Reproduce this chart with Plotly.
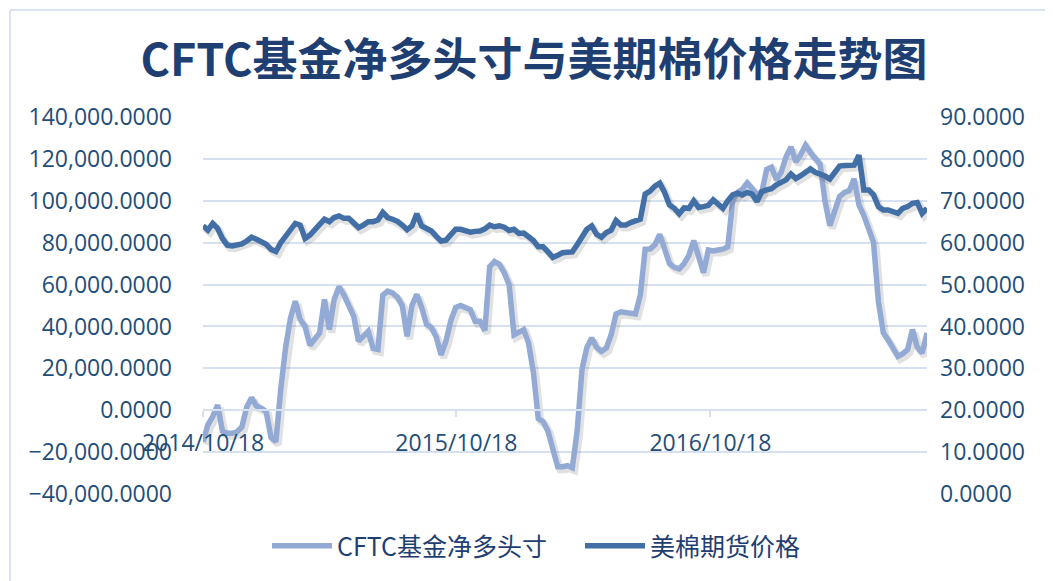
import pandas as pd
import plotly.graph_objects as go

# ---------------- data ----------------
start_date = "2014-10-18"          # first weekly observation
week_step = "7D"
tick_dates = ["2014-10-18", "2015-10-18", "2016-10-18"]
tick_labels = ["2014/10/18", "2015/10/18", "2016/10/18"]

series_names = ["CFTC基金净多头寸", "美棉期货价格"]

cftc_net_long = [
    -15000, -7000, -3000, 2500, -10000, -11000, -11000, -10300, -8000, 1500,
    6000, 2000, 1000, -700, -13000, -15000, 10000, 30000, 44000, 52000,
    43300, 40000, 31000, 34000, 36900, 52900, 38500, 53000, 59000, 55000,
    50000, 45000, 33000, 35000, 37700, 29500, 29000, 55000, 56900, 56000,
    54000, 50000, 35300, 50000, 55300, 49000, 41000, 39500, 35000, 26500,
    33000, 42800, 49000, 50000, 49000, 48000, 42500, 42500, 38000, 68500,
    71000, 69700, 65500, 60000, 36000, 37000, 38500, 32000, 18000, -4000,
    -5500, -10000, -17500, -27000, -27000, -26500, -27500, -10000, 19500, 30000,
    34500, 30000, 28100, 29700, 36000, 46000, 47000, 46500, 46500, 46000,
    55000, 76900, 77000, 79000, 84000, 76000, 70000, 68200, 67500, 70000,
    74000, 81000, 74000, 65700, 76500, 76100, 76500, 76900, 78000, 100000,
    104000, 105500, 108500, 106000, 103000, 104000, 115000, 116000, 110000, 113700,
    121000, 125700, 118500, 122000, 126500, 123000, 120000, 117500, 100000, 88100,
    95000, 102000, 104000, 104800, 110500, 98000, 93000, 86000, 80000, 52000,
    37000, 33500, 30000, 25700, 27000, 28900, 38500, 30000, 27300, 36900,
]

cotton_price = [
    64.0, 63.0, 64.6, 63.4, 61.0, 59.4, 59.2, 59.5, 59.7, 60.4,
    61.3, 60.8, 60.2, 59.6, 58.4, 57.9, 60.0, 61.6, 63.5, 64.6,
    64.2, 61.0, 61.8, 63.0, 64.0, 65.6, 65.0, 66.0, 66.4, 65.8,
    65.8, 64.8, 63.6, 64.2, 65.0, 65.0, 65.4, 67.2, 66.0, 65.6,
    65.1, 64.2, 63.1, 64.0, 66.9, 64.0, 63.2, 62.8, 61.5, 60.4,
    60.6, 62.0, 63.2, 63.2, 62.8, 62.5, 62.7, 62.8, 63.3, 64.2,
    63.8, 64.0, 63.7, 62.9, 63.2, 62.2, 62.3, 61.5, 60.5, 59.0,
    59.0, 57.8, 56.5, 57.0, 57.6, 57.7, 57.8, 59.5, 61.6, 63.2,
    64.0, 62.0, 61.3, 62.4, 63.0, 65.3, 64.2, 64.2, 64.8, 65.2,
    65.6, 71.6, 72.3, 73.5, 74.2, 72.0, 69.0, 68.2, 66.9, 68.3,
    68.2, 70.0, 68.4, 68.6, 68.9, 70.2, 69.0, 68.2, 70.0, 71.4,
    71.8, 71.4, 72.0, 71.6, 69.8, 72.2, 72.6, 72.9, 73.8, 74.6,
    75.0, 76.4, 75.3, 76.0, 77.0, 77.6, 76.8, 76.4, 75.9, 75.2,
    76.9, 78.3, 78.4, 78.3, 78.5, 80.9, 72.6, 72.6, 71.4, 68.6,
    67.8, 67.8, 67.4, 67.0, 68.2, 68.6, 69.4, 69.6, 67.0, 68.2,
]

left_range = [-40000, 140000]
right_range = [0, 90]

dates = pd.date_range(start_date, periods=len(cftc_net_long), freq=week_step)

# ---------------- style ----------------
# the page body adds an 8px margin, so the figure is sized to fit the window
PAGE = 8
W, H = 1053 - PAGE, 581 - PAGE
ML, MR, MT, MB = 195, 126, 109, 87
PW, PH = W - ML - MR, H - MT - MB
LIGHT = "#93AAD5"
DARK = "#4270A6"
GRID = "#D6E0F1"
NAVY = "#1F3F73"
SHADOW = "rgba(70,70,70,0.16)"
TICK_FONT = dict(family="Open Sans, Noto Sans CJK SC", size=23, color="#1F4E79")

# soft drop shadow (Excel-style): same series drawn a few pixels right/down
span_days = (dates[-1] - dates[0]).days
shadow_dx = pd.Timedelta(days=2.5 * span_days / PW)
shadow_dy_left = 3 * (left_range[1] - left_range[0]) / PH
shadow_dy_right = 3 * (right_range[1] - right_range[0]) / PH

fig = go.Figure()
fig.add_trace(go.Scatter(
    x=dates + shadow_dx, y=[v - shadow_dy_left for v in cftc_net_long],
    mode="lines", line=dict(color=SHADOW, width=7), yaxis="y",
    showlegend=False, hoverinfo="skip"))
fig.add_trace(go.Scatter(
    x=dates, y=cftc_net_long, name=series_names[0], mode="lines",
    line=dict(color=LIGHT, width=5.5), yaxis="y"))
fig.add_trace(go.Scatter(
    x=dates + shadow_dx, y=[v - shadow_dy_right for v in cotton_price],
    mode="lines", line=dict(color=SHADOW, width=7), yaxis="y2",
    showlegend=False, hoverinfo="skip"))
fig.add_trace(go.Scatter(
    x=dates, y=cotton_price, name=series_names[1], mode="lines",
    line=dict(color=DARK, width=5.5), yaxis="y2"))

zero_frac = (0 - left_range[0]) / (left_range[1] - left_range[0])

fig.update_layout(
    width=W, height=H,
    margin=dict(l=ML, r=MR, t=MT, b=MB, autoexpand=False),
    paper_bgcolor="white", plot_bgcolor="white",
    title=dict(
        text="<b>CFTC基金净多头寸与美期棉价格走势图</b>",
        font=dict(family="Noto Sans CJK SC", size=45, color=NAVY),
        x=(534 - PAGE) / W, xanchor="center", y=1 - (60 - PAGE) / H, yanchor="middle",
    ),
    xaxis=dict(
        type="date", range=[dates[0], dates[-1]],
        tickvals=tick_dates, ticktext=tick_labels,
        showgrid=False, zeroline=False,
        showline=True, linecolor=GRID, linewidth=1.5,
        ticks="outside", ticklen=6, tickcolor=GRID, tickwidth=1.5,
        anchor="free", position=zero_frac,
        tickfont=TICK_FONT, ticklabelstandoff=6,
    ),
    yaxis=dict(
        range=left_range, dtick=20000, tickformat=",.4f",
        showgrid=True, gridcolor=GRID, gridwidth=1.5,
        zeroline=False, showline=False, ticks="",
        tickfont=TICK_FONT, ticklabelstandoff=30,
    ),
    yaxis2=dict(
        range=right_range, dtick=10, tickformat=".4f",
        overlaying="y", side="right", showgrid=False, zeroline=False,
        showline=False, ticks="",
        tickfont=TICK_FONT, ticklabelstandoff=12,
    ),
    legend=dict(
        orientation="h", x=(580 - PAGE - ML) / PW, xanchor="center",
        y=-52 / PH, yanchor="middle",
        font=dict(family="Noto Sans CJK SC", size=25, color=NAVY),
        itemwidth=60, entrywidth=238, entrywidthmode="pixels",
        bgcolor="rgba(0,0,0,0)",
    ),
    showlegend=True,
)

# light chart border (top and left edges visible in the reference)
def px_x(p):
    return (p - PAGE - ML) / PW
def px_y(p):
    return (H - MB - (p - PAGE)) / PH
fig.add_shape(type="line", xref="paper", yref="paper",
              x0=px_x(10), x1=px_x(1070), y0=px_y(10), y1=px_y(10),
              line=dict(color="#DAE3F3", width=2))
fig.add_shape(type="line", xref="paper", yref="paper",
              x0=px_x(10), x1=px_x(10), y0=px_y(10), y1=px_y(600),
              line=dict(color="#DAE3F3", width=2))

fig.write_html("out.html")
